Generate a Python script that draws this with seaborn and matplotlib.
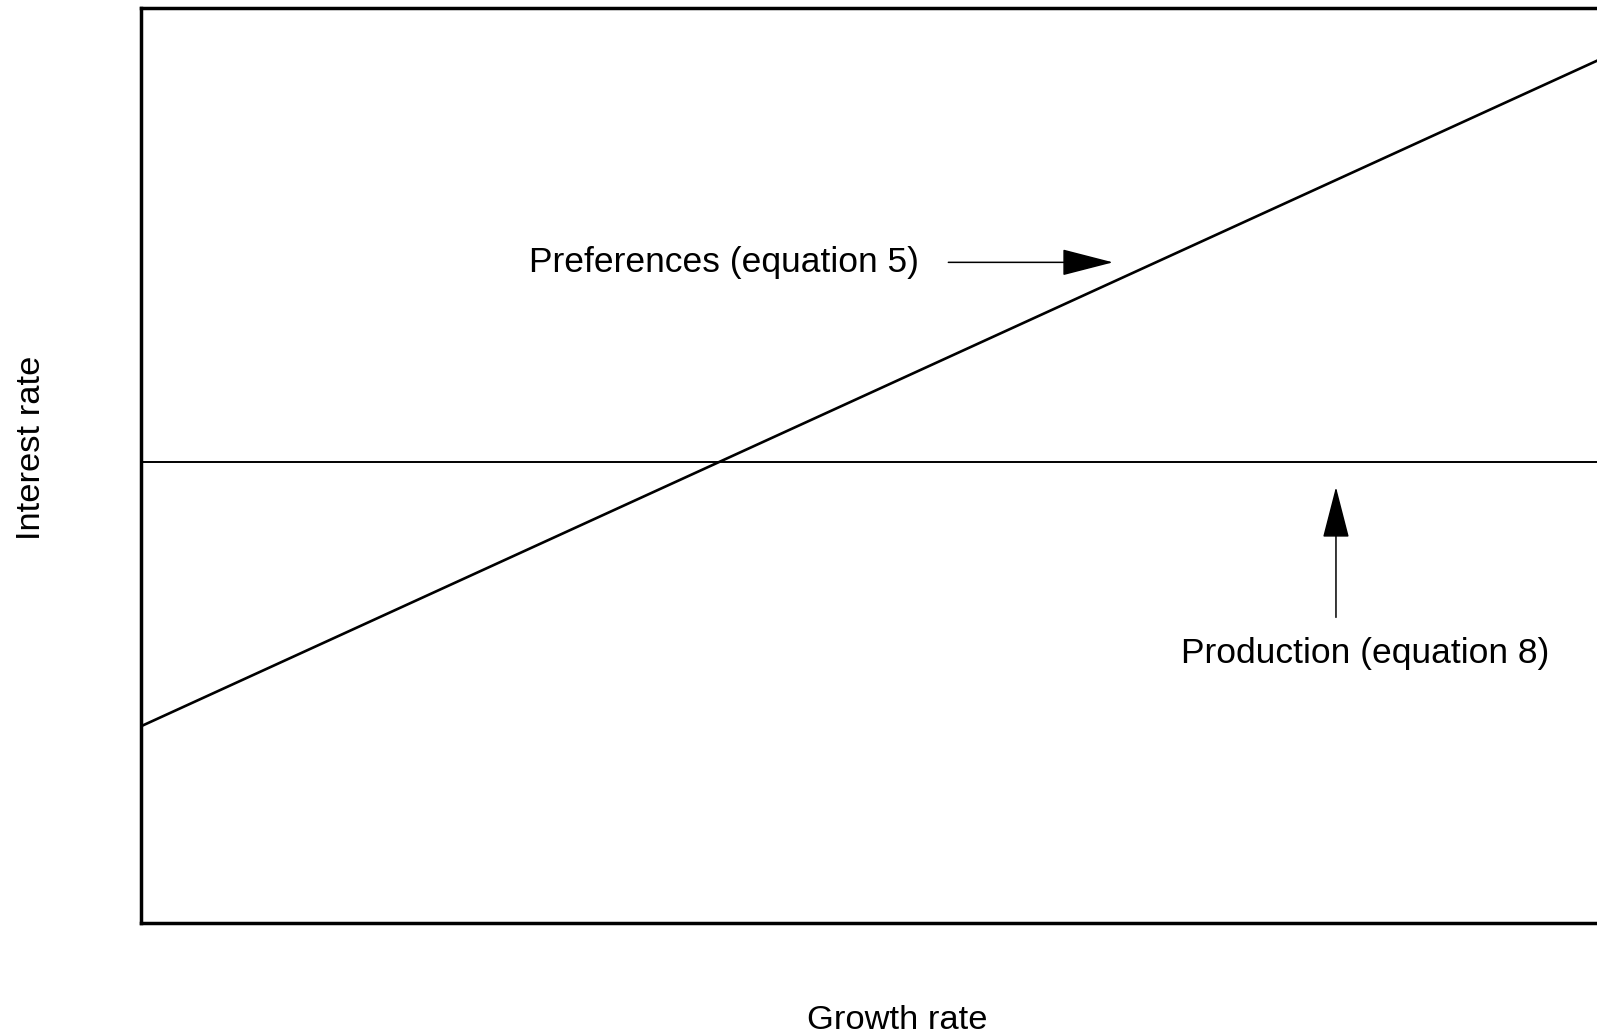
import matplotlib
matplotlib.use("Agg")
import matplotlib.pyplot as plt
import seaborn as sns
import pandas as pd

sns.set_theme(style="white")
plt.rcParams['font.family'] = ['Liberation Sans', 'DejaVu Sans']

# Data (normalized axes 0..1)
growth = [0.0, 1.0]
preferences = [0.215, 0.943]
production = [0.504, 0.504]

pref_label = "Preferences (equation 5)"
prod_label = "Production (equation 8)"
xlabel = "Growth rate"
ylabel = "Interest rate"

df = pd.DataFrame({"growth": growth * 2,
                   "rate": preferences + production,
                   "curve": ["pref", "pref", "prod", "prod"]})

fig = plt.figure(figsize=(15.97, 10.36), dpi=100)
ax = fig.add_axes([0.0883, 0.1091, 0.9125, 0.8832])

sns.lineplot(data=df[df.curve == "pref"], x="growth", y="rate", color="black", lw=1.9, ax=ax)
sns.lineplot(data=df[df.curve == "prod"], x="growth", y="rate", color="black", lw=1.4, ax=ax)

ax.set_xlim(0, 1)
ax.set_ylim(0, 1)
ax.set_xticks([])
ax.set_yticks([])
ax.set_xlabel("")
ax.set_ylabel("")
for s in ["left", "top", "bottom"]:
    ax.spines[s].set_color("black")
    ax.spines[s].set_linewidth(2.5)
ax.spines["right"].set_visible(False)

# Arrows
ax.annotate("", xy=(0.667, 0.722), xytext=(0.554, 0.722),
            arrowprops=dict(arrowstyle="-|>,head_length=33,head_width=8.5",
                            mutation_scale=1, lw=1.1, color="black",
                            shrinkA=0, shrinkB=0))
ax.annotate("", xy=(0.820, 0.4765), xytext=(0.820, 0.334),
            arrowprops=dict(arrowstyle="-|>,head_length=33,head_width=8.5",
                            mutation_scale=1, lw=1.1, color="black",
                            shrinkA=0, shrinkB=0))

ax.text(0.534, 0.7213, pref_label, ha="right", va="center", fontsize=25.5, color="black")
ax.text(0.840, 0.2947, prod_label, ha="center", va="center", fontsize=25.5, color="black")

fig.text(0.5617, 0.0154, xlabel, ha="center", va="center", fontsize=24.8, color="black")
fig.text(0.0195, 0.5676, ylabel, ha="center", va="center", rotation=90, fontsize=24.8, color="black")

fig.savefig("out.png", dpi=100, facecolor="white")
